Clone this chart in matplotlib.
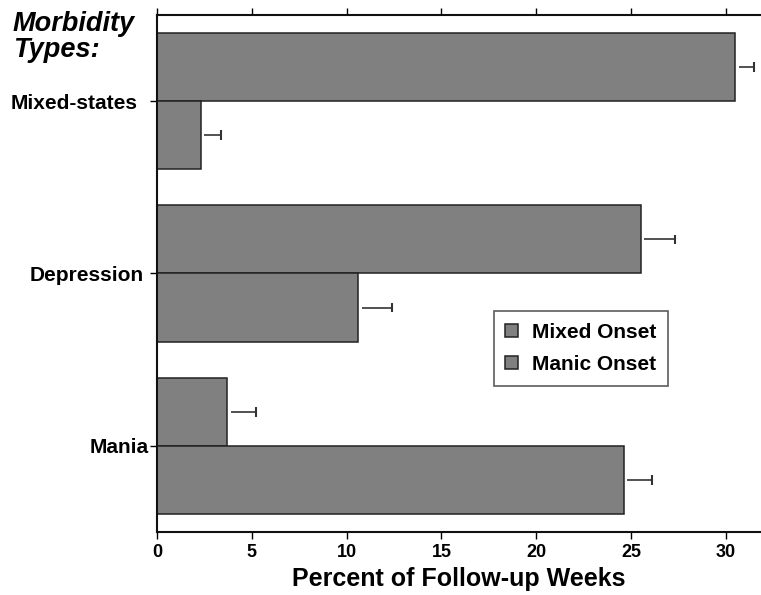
import matplotlib
matplotlib.use('Agg')
import matplotlib.pyplot as plt
import matplotlib.transforms as mtransforms
import numpy as np

categories = ['Mania', 'Depression', 'Mixed-states']
series_names = ['Mixed Onset', 'Manic Onset']
mixed_onset = [3.7, 25.5, 30.5]
mixed_onset_err = [1.5, 1.8, 1.0]
manic_onset = [24.6, 10.6, 2.3]
manic_onset_err = [1.5, 1.8, 1.05]
x_ticks = [0, 5, 10, 15, 20, 25, 30]

bar_gray = '#808080'
edge_dark = '#222222'
plt.rcParams['font.family'] = ['Liberation Sans', 'DejaVu Sans']

fig = plt.figure(figsize=(7.61, 5.95), dpi=100)
ax = fig.add_axes([0.2063, 0.1059, 0.7937, 0.8689])

y = np.arange(len(categories))
h = 0.395
gap = 0.2      # small space between bar end and error line
cap = 0.028    # half height of the end cap

ax.barh(y + h / 2, mixed_onset, height=h, color=bar_gray, edgecolor=edge_dark,
        linewidth=1.1, label=series_names[0])
ax.barh(y - h / 2, manic_onset, height=h, color=bar_gray, edgecolor=edge_dark,
        linewidth=1.1, label=series_names[1])

# one-sided error bars, cap only at the outer end
for vals, errs, off in [(mixed_onset, mixed_onset_err, h / 2), (manic_onset, manic_onset_err, -h / 2)]:
    vals = np.array(vals)
    errs = np.array(errs)
    yy = y + off
    ax.hlines(yy, vals + gap, vals + errs, color='#333333', linewidth=1.2)
    ax.vlines(vals + errs, yy - cap, yy + cap, color='#333333', linewidth=1.5)

ax.set_xlim(0, 31.85)
ax.set_ylim(-0.5, 2.5)
ax.set_xticks(x_ticks)
ax.set_xticklabels([str(t) for t in x_ticks], fontsize=13, fontweight='bold')
ax.set_yticks(y)
ax.set_yticklabels(categories, fontsize=15, fontweight='bold')
ax.tick_params(axis='x', top=True, direction='out', length=5, width=1, pad=4)
ax.tick_params(axis='y', direction='out', length=5, width=1, pad=8)
ax.spines['right'].set_visible(False)
for s in ['left', 'top', 'bottom']:
    ax.spines[s].set_linewidth(1.5)
    ax.spines[s].set_color('#111111')

# the original labels sit at slightly different distances from the axis
shifts = [0.10, 0.05, -0.01]
for lab, dx in zip(ax.get_yticklabels(), shifts):
    lab.set_transform(lab.get_transform() + mtransforms.ScaledTranslation(dx, 0, fig.dpi_scale_trans))

ax.set_xlabel('Percent of Follow-up Weeks', fontsize=18, fontweight='bold', labelpad=4)

fig.text(0.017, 0.982, 'Morbidity\nTypes:', fontsize=19.5, fontweight='bold', fontstyle='italic',
         va='top', ha='left', linespacing=1.0)

leg = ax.legend(loc='upper left', bbox_to_anchor=(0.649, 0.477), bbox_transform=fig.transFigure,
                frameon=True, fancybox=False, edgecolor='#333333', handlelength=0.6,
                handleheight=0.6, borderpad=0.55, labelspacing=0.65, borderaxespad=0,
                handletextpad=0.7, prop={'weight': 'bold', 'size': 15})
leg.get_frame().set_linewidth(1.2)

fig.savefig('out.png', dpi=100)
